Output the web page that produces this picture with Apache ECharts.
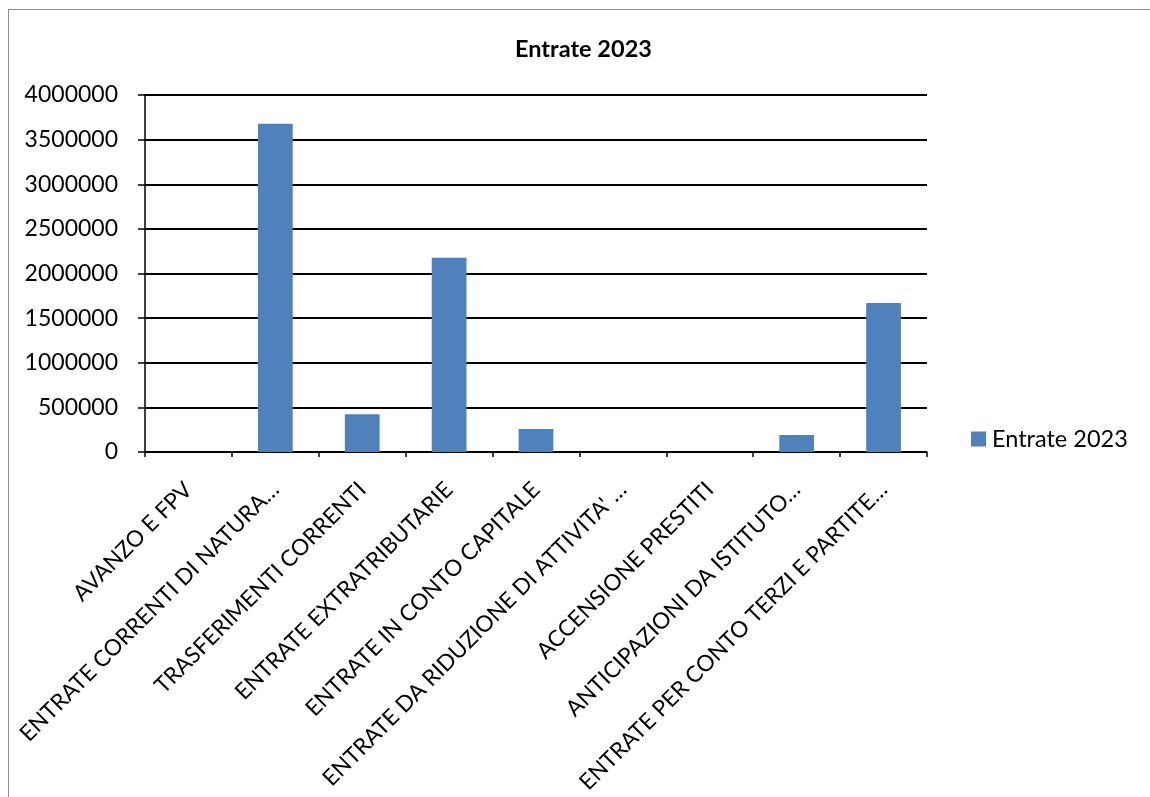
<!DOCTYPE html>
<html>
<head>
<meta charset="utf-8">
<script src="https://cdn.jsdelivr.net/npm/echarts@6/dist/echarts.min.js"></script>
<style>
html,body{margin:0;padding:0;overflow:hidden;background:#fff;}
#frame{position:absolute;left:8px;top:9px;width:1300px;height:1000px;border:1px solid #8c8c8c;box-sizing:border-box;}
#chart{position:absolute;left:0;top:0;width:1150px;height:797px;}
</style>
</head>
<body>
<div id="frame"></div>
<div id="chart"></div>
<script>
const categories = [
  "AVANZO E FPV",
  "ENTRATE CORRENTI DI NATURA…",
  "TRASFERIMENTI CORRENTI",
  "ENTRATE EXTRATRIBUTARIE",
  "ENTRATE IN CONTO CAPITALE",
  "ENTRATE DA RIDUZIONE DI ATTIVITA' …",
  "ACCENSIONE PRESTITI",
  "ANTICIPAZIONI DA ISTITUTO…",
  "ENTRATE PER CONTO TERZI E PARTITE…"
];
const values = [0, 3678000, 422000, 2177000, 258000, 0, 0, 190000, 1669000];
const seriesName = "Entrate 2023";
const titleText = "Entrate 2023";
const yTicks = { min: 0, max: 4000000, interval: 500000 };

const chart = echarts.init(document.getElementById('chart'), null, {renderer: 'canvas'});
const font = 'Lato';
chart.setOption({
  animation: false,
  backgroundColor: 'transparent',
  title: {
    text: titleText,
    left: 510,
    top: 32,
    textStyle: {fontFamily: font, fontWeight: 'bold', fontSize: 23.5, color: '#000'}
  },
  legend: {
    data: [seriesName],
    left: 966,
    top: 422,
    itemWidth: 15,
    itemHeight: 15,
    itemGap: 6,
    icon: 'rect',
    textStyle: {fontFamily: font, fontSize: 23.5, color: '#000', padding: [0, 0, 0, 1]}
  },
  grid: {left: 145, right: 223, top: 95, bottom: 345, containLabel: false, outerBoundsMode: 'none'},
  xAxis: {
    type: 'category',
    data: categories,
    axisLine: {lineStyle: {color: '#000', width: 1.5}},
    axisTick: {show: true, length: 5, lineStyle: {color: '#000', width: 1.5}},
    axisLabel: {interval: 0, rotate: 45, fontFamily: font, fontSize: 22.5, color: '#000', margin: 34}
  },
  yAxis: {
    type: 'value',
    min: yTicks.min,
    max: yTicks.max,
    interval: yTicks.interval,
    axisLine: {show: true, lineStyle: {color: '#000', width: 1.5}},
    axisTick: {show: true, length: 7, lineStyle: {color: '#000', width: 1.5}},
    splitLine: {show: true, lineStyle: {color: '#000', width: 2}},
    axisLabel: {fontFamily: font, fontSize: 23, color: '#000', margin: 27, formatter: function (v) { return String(v); }}
  },
  series: [{
    name: seriesName,
    type: 'bar',
    data: values,
    barWidth: '40%',
    itemStyle: {color: '#4F81BD'}
  }]
});
</script>
</body>
</html>
